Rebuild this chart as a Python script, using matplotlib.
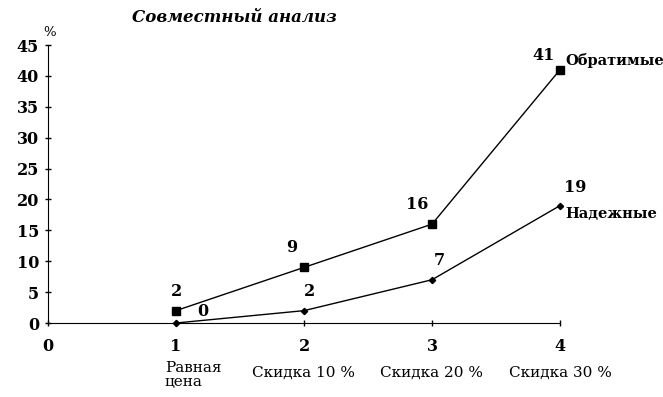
import matplotlib.pyplot as plt

# data
steps = [1, 2, 3, 4]
reversible = [2, 9, 16, 41]   # Обратимые
reliable = [0, 2, 7, 19]      # Надежные
step_names = ['Равная\nцена', 'Скидка 10 %', 'Скидка 20 %', 'Скидка 30 %']
y_ticks = [0, 5, 10, 15, 20, 25, 30, 35, 40, 45]
x_ticks = [0, 1, 2, 3, 4]

plt.rcParams['font.family'] = ['DejaVu Serif']

fig = plt.figure(figsize=(6.63, 3.97), dpi=100)
ax = fig.add_axes([48 / 663, 1 - 323 / 397, (560 - 48) / 663, (323 - 45) / 397])

ax.plot(steps, reversible, color='black', lw=1, marker='s', ms=5.5, clip_on=False)
ax.plot(steps, reliable, color='black', lw=1, marker='D', ms=3.2, clip_on=False)

ax.set_xlim(0, 4)
ax.set_ylim(0, 45)
ax.set_xticks(x_ticks)
ax.set_yticks(y_ticks)
ax.tick_params(axis='both', direction='inout', length=5, width=1, labelsize=11.5)
ax.tick_params(axis='x', pad=8)
ax.tick_params(axis='y', pad=4)
for lab in ax.get_xticklabels() + ax.get_yticklabels():
    lab.set_fontweight('bold')
for s in ['top', 'right']:
    ax.spines[s].set_visible(False)

# category names under the numeric ticks
for x, name in zip(steps, step_names):
    if x == 1:
        ax.annotate(name, (x, 0), xycoords=('data', 'axes fraction'), xytext=(-8, -27),
                    textcoords='offset points', ha='left', va='top', fontsize=11, linespacing=1.0)
    else:
        ax.annotate(name, (x, 0), xycoords=('data', 'axes fraction'), xytext=(0, -31),
                    textcoords='offset points', ha='center', va='top', fontsize=11)

# value labels
offsets_rev = [(0, 8), (-9, 8), (-11, 8), (-12, 4)]
for x, y, off in zip(steps, reversible, offsets_rev):
    ax.annotate(str(y), (x, y), xytext=off, textcoords='offset points',
                ha='center', va='bottom', fontsize=11.5, fontweight='bold')
offsets_rel = [(19, 2), (4, 8), (5, 8), (11, 7)]
for x, y, off in zip(steps, reliable, offsets_rel):
    ax.annotate(str(y), (x, y), xytext=off, textcoords='offset points',
                ha='center', va='bottom', fontsize=11.5, fontweight='bold')

ax.annotate('Обратимые', (4, 41), xytext=(4, 1), textcoords='offset points',
            ha='left', va='bottom', fontsize=10.5, fontweight='bold')
ax.annotate('Надежные', (4, 19), xytext=(4, -1), textcoords='offset points',
            ha='left', va='top', fontsize=10.5, fontweight='bold')

fig.text(50 / 663, 1 - 32 / 397, '%', fontsize=9.5, ha='center', va='center')
fig.text(132 / 663, 1 - 18 / 397, 'Совместный анализ', fontsize=12,
         fontweight='bold', fontstyle='italic', ha='left', va='center')

fig.savefig('out.png', dpi=100)
